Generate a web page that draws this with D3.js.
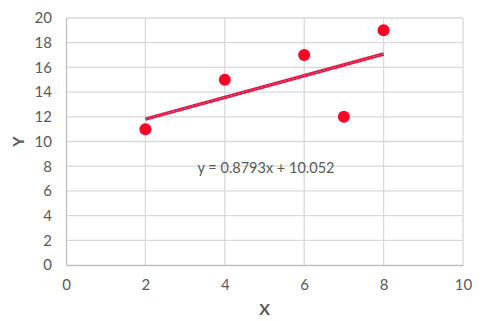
<!DOCTYPE html>
<html>
<head>
<meta charset="utf-8">
<script src="https://cdn.jsdelivr.net/npm/d3@7"></script>
<style>
  body { margin: 0; background: #fff; }
  svg { display: block; }
  .tick text { font-family: Lato, "Liberation Sans", sans-serif; fill: #595959; font-size: 15px; }
</style>
</head>
<body>
<script>
// data
var xs = [2, 4, 6, 7, 8];
var ys = [11, 15, 17, 12, 19];
var xTicks = [0, 2, 4, 6, 8, 10];
var yTicks = [0, 2, 4, 6, 8, 10, 12, 14, 16, 18, 20];
var equation = "y = 0.8793x + 10.052";

var width = 485, height = 321;
var margin = {left: 66, right: 22, top: 18, bottom: 56};
var font = "Lato, 'Liberation Sans', sans-serif";

var svg = d3.select("body").append("svg")
    .attr("width", width)
    .attr("height", height);

var xScale = d3.scaleLinear().domain([0, 10]).range([margin.left, width - margin.right]);
var yScale = d3.scaleLinear().domain([0, 20]).range([height - margin.bottom, margin.top]);

// gridlines
svg.append("g")
    .selectAll("line.vg")
    .data(xTicks.slice(1))
    .enter().append("line")
    .attr("x1", function(d) { return xScale(d); })
    .attr("x2", function(d) { return xScale(d); })
    .attr("y1", yScale(0))
    .attr("y2", yScale(20))
    .attr("stroke", "#d9d9d9")
    .attr("stroke-width", 1.3);

svg.append("g")
    .selectAll("line.hg")
    .data(yTicks.slice(1))
    .enter().append("line")
    .attr("x1", xScale(0))
    .attr("x2", xScale(10))
    .attr("y1", function(d) { return yScale(d); })
    .attr("y2", function(d) { return yScale(d); })
    .attr("stroke", "#d9d9d9")
    .attr("stroke-width", 1.3);

// axes
var xAxis = svg.append("g")
    .attr("transform", "translate(0," + yScale(0) + ")")
    .call(d3.axisBottom(xScale).tickValues(xTicks).tickSize(0).tickPadding(14));
xAxis.select(".domain").attr("stroke", "#bfbfbf").attr("stroke-width", 1.3);

var yAxis = svg.append("g")
    .attr("transform", "translate(" + xScale(0) + ",0)")
    .call(d3.axisLeft(yScale).tickValues(yTicks).tickSize(0).tickPadding(14));
yAxis.select(".domain").attr("stroke", "#bfbfbf").attr("stroke-width", 1.3);

// axis titles
svg.append("text")
    .attr("x", (xScale(0) + xScale(10)) / 2)
    .attr("y", 315)
    .attr("text-anchor", "middle")
    .attr("font-family", font)
    .attr("font-weight", "bold")
    .attr("font-size", 16)
    .attr("fill", "#595959")
    .text("X");

svg.append("text")
    .attr("transform", "translate(24," + yScale(10) + ") rotate(-90)")
    .attr("text-anchor", "middle")
    .attr("font-family", font)
    .attr("font-weight", "bold")
    .attr("font-size", 16)
    .attr("fill", "#595959")
    .text("Y");

// trendline from least squares
var mx = d3.mean(xs), my = d3.mean(ys);
var sxy = d3.sum(xs, function(x, i) { return (x - mx) * (ys[i] - my); });
var sxx = d3.sum(xs, function(x) { return (x - mx) * (x - mx); });
var slope = sxy / sxx, intercept = my - slope * mx;
var x0 = d3.min(xs), x1 = d3.max(xs);

svg.append("line")
    .attr("x1", xScale(x0)).attr("y1", yScale(slope * x0 + intercept))
    .attr("x2", xScale(x1)).attr("y2", yScale(slope * x1 + intercept))
    .attr("stroke", "#f5103a")
    .attr("stroke-width", 3.5);

svg.append("line")
    .attr("x1", xScale(x0)).attr("y1", yScale(slope * x0 + intercept))
    .attr("x2", xScale(x1)).attr("y2", yScale(slope * x1 + intercept))
    .attr("stroke", "#6b8fd0")
    .attr("stroke-width", 1)
    .attr("stroke-dasharray", "2,2");

// points
svg.append("g")
    .selectAll("circle")
    .data(xs)
    .enter().append("circle")
    .attr("cx", function(d) { return xScale(d); })
    .attr("cy", function(d, i) { return yScale(ys[i]); })
    .attr("r", 6)
    .attr("fill", "#ff0026");

// equation label
svg.append("text")
    .attr("x", 266)
    .attr("y", 173)
    .attr("text-anchor", "middle")
    .attr("font-family", font)
    .attr("font-size", 14.5)
    .attr("fill", "#595959")
    .text(equation);
</script>
</body>
</html>
